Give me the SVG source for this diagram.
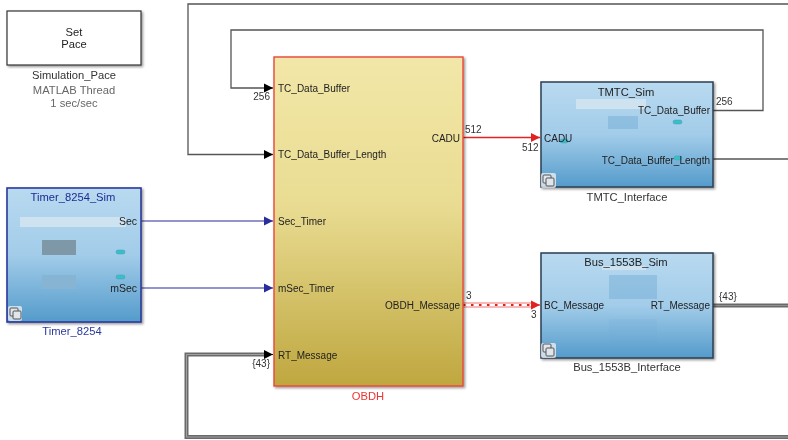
<svg xmlns="http://www.w3.org/2000/svg" width="788" height="440" viewBox="0 0 788 440">
<style>
text{font-family:"Liberation Sans",Arial,sans-serif;font-size:10px;fill:#222}
.title{font-size:11.200px;text-anchor:middle}
.cap{font-size:11.200px;text-anchor:middle;fill:#333}
.r{text-anchor:end}
.num{font-size:10px;fill:#333}
.w{fill:none;stroke:#555;stroke-width:1.3}
.sub{stroke:#2b3f52;stroke-width:1.5}
.thumb{fill:#6aa6d2;opacity:.4}
.led{fill:#37bfc9;stroke:#4a9fb0;stroke-width:.5}
.ic{fill:#dfe6ec;stroke:#555;stroke-width:1}
.soft{filter:url(#blur)}
#connectors,#Simulation_Pace,#Timer_8254,#OBDH,#TMTC_Interface,#Bus_1553B_Interface{filter:url(#fine)}
</style>
<defs>
<linearGradient id="blue" x1="0" y1="0" x2="0" y2="1"><stop offset="0" stop-color="#b9daf0"/><stop offset=".5" stop-color="#a2cce9"/><stop offset="1" stop-color="#549bcb"/></linearGradient>
<linearGradient id="gold" x1="0" y1="0" x2="0" y2="1"><stop offset="0" stop-color="#f2e7a8"/><stop offset=".45" stop-color="#e9dc92"/><stop offset="1" stop-color="#bfa73f"/></linearGradient>
<filter id="shadow" x="-5%" y="-5%" width="112%" height="112%"><feDropShadow dx="1.5" dy="1.5" stdDeviation="1.2" flood-color="#000" flood-opacity=".4"/></filter>
<filter id="blur"><feGaussianBlur stdDeviation=".6"/></filter>
<filter id="fine" filterUnits="userSpaceOnUse" x="0" y="0" width="788" height="440"><feGaussianBlur stdDeviation=".35"/></filter>
<marker id="ab" markerUnits="userSpaceOnUse" markerWidth="10" markerHeight="10" refX="9" refY="5" orient="auto"><path d="M0 .5L9 5L0 9.5z" fill="#000"/></marker>
<marker id="ar" markerUnits="userSpaceOnUse" markerWidth="10" markerHeight="10" refX="9" refY="5" orient="auto"><path d="M0 .5L9 5L0 9.5z" fill="#e02020"/></marker>
<marker id="an" markerUnits="userSpaceOnUse" markerWidth="10" markerHeight="10" refX="9" refY="5" orient="auto"><path d="M0 .5L9 5L0 9.5z" fill="#2a2f9c"/></marker>
</defs>
<rect width="788" height="440" fill="#fff"/>

<g id="connectors">
<path class="w" d="M713 110.500H763V30H231V88H273" marker-end="url(#ab)"/>
<path class="w" d="M788 4H188V154.500H273" marker-end="url(#ab)"/>
<path class="w" d="M713 159H788"/>
<path d="M141 221H273" fill="none" stroke="#2a2f9c" stroke-width="1.2" marker-end="url(#an)"/>
<path d="M141 288H273" fill="none" stroke="#2a2f9c" stroke-width="1.2" marker-end="url(#an)"/>
<path d="M463 137.500H540" fill="none" stroke="#e02828" stroke-width="1.400" marker-end="url(#ar)"/>
<path d="M463 305H532" fill="none" stroke="#f07070" stroke-width="5"/>
<path d="M463 305H532" fill="none" stroke="#fff" stroke-width="3"/>
<path d="M463 305H532" fill="none" stroke="#e02020" stroke-width="2.200" stroke-dasharray="2.500 5.500"/>
<path d="M532 305H540" fill="none" stroke="#e02020" stroke-width="1" marker-end="url(#ar)"/>
<path d="M713 305.500H788" fill="none" stroke="#6a6a6a" stroke-width="4"/>
<path d="M713 305.500H788" fill="none" stroke="#8f8f8f" stroke-width="1"/>
<path d="M788 437H186.500V354.500H266" fill="none" stroke="#6a6a6a" stroke-width="4"/>
<path d="M788 437H186.500V354.500H266" fill="none" stroke="#a0a0a0" stroke-width="1"/>
<path d="M264 354.500H273" fill="none" stroke="#000" stroke-width="1" marker-end="url(#ab)"/>
<text class="num" x="270" y="100" text-anchor="end">256</text>
<text class="num" x="465" y="133">512</text>
<text class="num" x="522" y="151">512</text>
<text class="num" x="716" y="105">256</text>
<text class="num" x="466" y="299">3</text>
<text class="num" x="531" y="318">3</text>
<text class="num" x="719" y="300">{43}</text>
<text class="num" x="270" y="367" text-anchor="end">{43}</text>
</g>

<g id="Simulation_Pace">
<rect x="7" y="11" width="134" height="54" fill="#fff" stroke="#333" stroke-width="1.2" filter="url(#shadow)"/>
<text class="title" x="74" y="36">Set</text>
<text class="title" x="74" y="48">Pace</text>
<text class="cap" x="74" y="79">Simulation_Pace</text>
<text class="cap" x="74" y="94" style="fill:#666">MATLAB Thread</text>
<text class="cap" x="74" y="107" style="fill:#666">1 sec/sec</text>
</g>

<g id="Timer_8254">
<rect x="7" y="188" width="134" height="134" fill="url(#blue)" stroke="#2a3a9c" stroke-width="1.6" filter="url(#shadow)"/>
<text class="title" x="73" y="201" style="fill:#1d2b96">Timer_8254_Sim</text>
<rect class="soft" x="20" y="217" width="106" height="10" fill="#cfe2f0"/>
<rect class="soft" x="42" y="240" width="34" height="15" fill="#7f98a8"/>
<rect class="soft" x="42" y="275" width="34" height="14" fill="#88b4d4"/>
<rect class="led soft" x="116" y="250" width="9" height="4" rx="2"/>
<rect class="led soft" x="116" y="275" width="9" height="4" rx="2"/>
<text class="r" x="137" y="225" style="font-size:10.500px">Sec</text>
<text class="r" x="137" y="292" style="font-size:10.500px">mSec</text>
<rect x="8" y="306" width="14" height="15" rx="2" fill="#e8eef3" opacity=".8"/>
<rect class="ic" x="10" y="308" width="8" height="8" rx="1"/><rect class="ic" x="13" y="311" width="8" height="8" rx="1"/>
<text class="cap" x="72" y="335" style="fill:#2a3a9c">Timer_8254</text>
</g>

<g id="OBDH">
<rect x="274" y="57" width="189" height="329" fill="url(#gold)" stroke="#e8483a" stroke-width="1.4" filter="url(#shadow)"/>
<text x="278" y="92">TC_Data_Buffer</text>
<text x="278" y="158">TC_Data_Buffer_Length</text>
<text x="278" y="225">Sec_Timer</text>
<text x="278" y="292">mSec_Timer</text>
<text x="278" y="359">RT_Message</text>
<text class="r" x="460" y="142">CADU</text>
<text class="r" x="460" y="309">OBDH_Message</text>
<text class="cap" x="368" y="400" style="fill:#f03030">OBDH</text>
</g>

<g id="TMTC_Interface">
<rect x="541" y="82" width="172" height="105" class="sub" fill="url(#blue)" filter="url(#shadow)"/>
<rect class="soft" x="576" y="99" width="70" height="10" fill="#cfe2f0"/>
<text class="title" x="626" y="96">TMTC_Sim</text>
<rect class="thumb soft" x="608" y="116" width="30" height="13"/>
<rect class="led soft" x="673" y="120" width="9" height="4" rx="2"/>
<rect class="led soft" x="560" y="139" width="8" height="4" rx="2"/>
<rect class="led soft" x="674" y="156" width="8" height="4" rx="2"/>
<text x="544" y="142">CADU</text>
<text class="r" x="710" y="114">TC_Data_Buffer</text>
<text class="r" x="710" y="164">TC_Data_Buffer_Length</text>
<rect x="541" y="173" width="15" height="15" rx="2" fill="#e8eef3" opacity=".8"/>
<rect class="ic" x="543" y="175" width="8" height="8" rx="1"/><rect class="ic" x="546" y="178" width="8" height="8" rx="1"/>
<text class="cap" x="627" y="201">TMTC_Interface</text>
</g>

<g id="Bus_1553B_Interface">
<rect x="541" y="253" width="172" height="105" class="sub" fill="url(#blue)" filter="url(#shadow)"/>
<rect class="soft" x="602" y="266" width="44" height="4" fill="#cfe2f0"/>
<text class="title" x="626" y="266">Bus_1553B_Sim</text>
<rect class="thumb soft" x="609" y="275" width="48" height="24"/>
<rect class="thumb soft" x="609" y="319" width="48" height="24" style="opacity:.12"/>
<text x="544" y="309">BC_Message</text>
<text class="r" x="710" y="309">RT_Message</text>
<rect x="541" y="343" width="15" height="15" rx="2" fill="#e8eef3" opacity=".8"/>
<rect class="ic" x="543" y="344" width="8" height="8" rx="1"/><rect class="ic" x="546" y="348" width="8" height="8" rx="1"/>
<text class="cap" x="627" y="371">Bus_1553B_Interface</text>
</g>
</svg>
